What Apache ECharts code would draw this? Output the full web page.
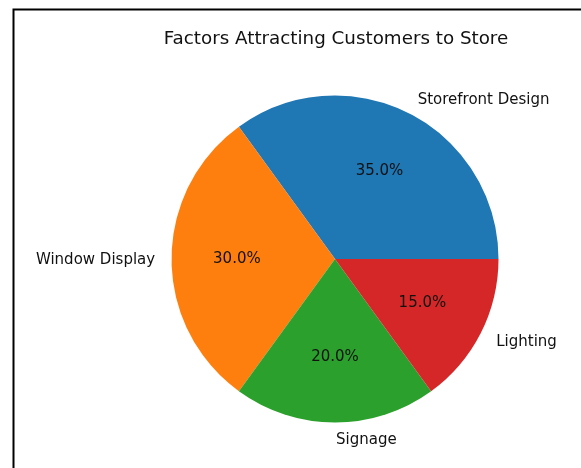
<!DOCTYPE html>
<html>
<head>
<meta charset="utf-8">
<style>
  html, body { margin: 0; padding: 0; background: #fff; }
  #chart { width: 581px; height: 468px; }
</style>
<script src="https://cdn.jsdelivr.net/npm/echarts@6/dist/echarts.min.js"></script>
</head>
<body>
<div id="chart"></div>
<script>
// Survey shares of what draws customers into the store
const categories = ['Storefront Design', 'Window Display', 'Signage', 'Lighting'];
const shares = [35, 30, 20, 15];
const sliceColors = ['#1f77b4', '#ff7f0e', '#2ca02c', '#d62728'];

const CX = 335, CY = 259, R = 163.5;
const FONT = '"DejaVu Sans", sans-serif';
const TEXT = '#111';

// ECharts places 'inside' labels at (r0 + r) / 2 plus 3px outward,
// so these helper radii put text at 0.6R and 1.1R from the centre.
const pctRadius = 2 * (0.6 * R - 3);
const nameRadius = 2 * (1.1 * R - 3);

const sliceData = categories.map((name, i) => ({ name, value: shares[i] }));

const chart = echarts.init(document.getElementById('chart'), null, { renderer: 'canvas' });

const hiddenRing = {
  type: 'pie',
  center: [CX, CY],
  startAngle: 0,
  clockwise: false,
  silent: true,
  animation: false,
  itemStyle: { color: 'rgba(0,0,0,0)', borderWidth: 0 },
  emphasis: { disabled: true },
  labelLine: { show: false }
};

chart.setOption({
  backgroundColor: '#fff',
  animation: false,
  title: {
    text: 'Factors Attracting Customers to Store',
    left: CX - 4,
    textAlign: 'center',
    top: 25,
    textStyle: { fontFamily: FONT, fontSize: 18.3, fontWeight: 'normal', color: TEXT }
  },
  graphic: [{
    type: 'rect',
    shape: { x: 13.5, y: 9.5, width: 700, height: 600 },
    style: { fill: 'none', stroke: '#000', lineWidth: 2 },
    silent: true
  }],
  series: [
    {
      type: 'pie',
      name: 'slices',
      center: [CX, CY],
      radius: [0, R],
      startAngle: 0,
      clockwise: false,
      animation: false,
      silent: true,
      data: sliceData,
      color: sliceColors,
      itemStyle: { borderWidth: 0 },
      label: { show: false },
      labelLine: { show: false },
      emphasis: { disabled: true }
    },
    Object.assign({}, hiddenRing, {
      name: 'percent',
      radius: [0, pctRadius],
      data: sliceData,
      label: {
        show: true,
        position: 'inside',
        formatter: p => p.percent.toFixed(1) + '%',
        fontFamily: FONT,
        fontSize: 15,
        color: TEXT
      }
    }),
    Object.assign({}, hiddenRing, {
      name: 'names',
      radius: [0, nameRadius],
      data: sliceData,
      label: {
        show: true,
        position: 'inside',
        formatter: '{b}',
        fontFamily: FONT,
        fontSize: 15,
        color: TEXT
      },
      // names sit beside the ring: left-aligned on the right half, right-aligned on the left
      labelLayout: function (params) {
        const r = params.labelRect;
        const mx = r.x + r.width / 2;
        const my = r.y + r.height / 2;
        return {
          x: mx + (mx >= CX - 1 ? 1 : 0),
          y: my + 1,
          align: mx >= CX - 1 ? 'left' : 'right',
          verticalAlign: 'middle'
        };
      }
    })
  ]
});
</script>
</body>
</html>
